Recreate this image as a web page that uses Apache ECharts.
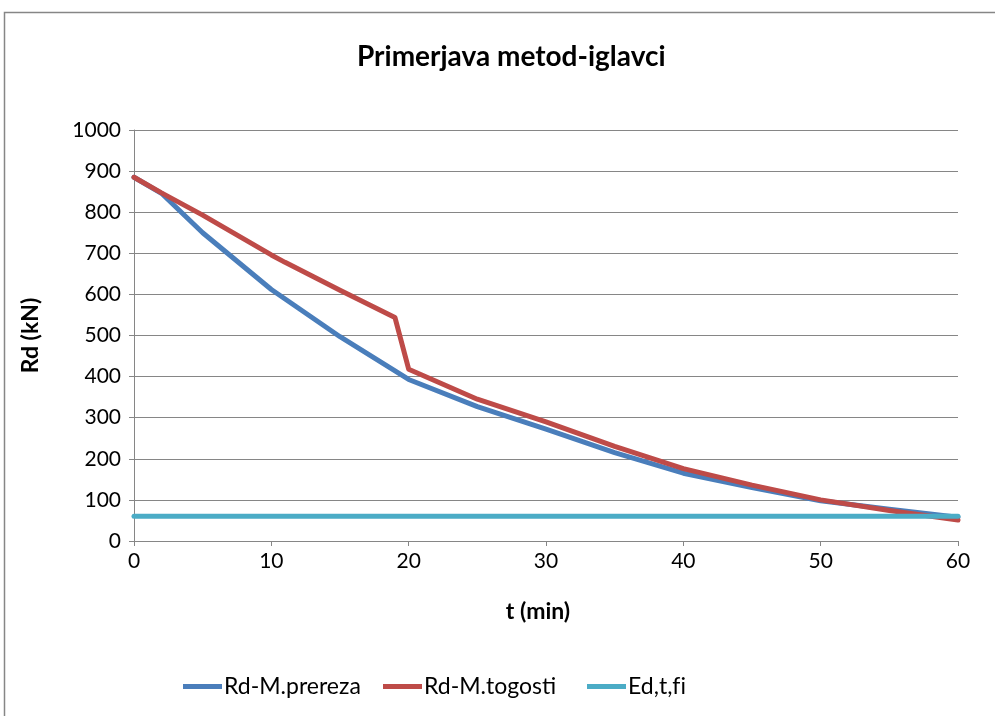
<!DOCTYPE html>
<html>
<head>
<meta charset="utf-8">
<title>Primerjava metod-iglavci</title>
<script src="https://cdn.jsdelivr.net/npm/echarts@6/dist/echarts.min.js"></script>
<style>
  html, body { margin: 0; padding: 0; background: #ffffff; }
  #chart { width: 995px; height: 716px; }
</style>
</head>
<body>
<div id="chart"></div>
<script>
// Load-bearing capacity over fire exposure time (t in minutes, Rd in kN)
const chartTitle = 'Primerjava metod-iglavci';
const xAxisTitle = 't (min)';
const yAxisTitle = 'Rd (kN)';

// Reduced cross-section method
const prerezaName = 'Rd-M.prereza';
const prerezaTime = [0, 2, 5, 10, 15, 20, 25, 30, 35, 40, 45, 50, 55, 60];
const prerezaRd   = [885, 846, 750, 612, 497, 393, 327, 272, 215, 165, 130, 98, 77, 58];

// Reduced stiffness method
const togostiName = 'Rd-M.togosti';
const togostiTime = [0, 2, 5, 10, 11, 15, 19, 20, 25, 30, 35, 40, 45, 50, 55, 60];
const togostiRd   = [885, 847, 793, 696, 678, 610, 544, 418, 345, 290, 230, 176, 136, 100, 74, 51];

// Design action in fire (ZWNJ keeps "f" and "i" as separate glyphs)
const edName = 'Ed,t,f\u200Ci';
const edTime = [0, 60];
const edValue = [60, 60];

const xTicks = { min: 0, max: 60, interval: 10 };
const yTicks = { min: 0, max: 1000, interval: 100 };

const pairs = (xs, ys) => xs.map((x, i) => [x, ys[i]]);

const FONT = 'Lato';
const GRAY = '#868686';

function lineSeries(name, data, color) {
  return {
    name: name,
    type: 'line',
    data: data,
    symbol: 'none',
    smooth: false,
    animation: false,
    itemStyle: { color: color },
    lineStyle: { color: color, width: 5, cap: 'round', join: 'round' }
  };
}

const legendBase = {
  top: 670,
  itemWidth: 39,
  itemHeight: 26,
  itemGap: 0,
  textStyle: { fontFamily: FONT, fontSize: 23, color: '#000000', padding: [0, 0, 0, -3] },
  icon: 'path://M0,0 L39,0 L39,5 L0,5 Z'
};

const chart = echarts.init(document.getElementById('chart'), null, { renderer: 'canvas' });
chart.setOption({
  backgroundColor: '#ffffff',
  animation: false,
  title: {
    text: chartTitle,
    left: 352,
    top: 38,
    textStyle: { fontFamily: FONT, fontSize: 28, fontWeight: 'bold', color: '#000000' }
  },
  graphic: [{
    type: 'rect',
    shape: { x: 4.5, y: 12.5, width: 1200, height: 900 },
    style: { fill: 'none', stroke: GRAY, lineWidth: 1.5 },
    silent: true,
    z: -1
  }],
  legend: [
    Object.assign({}, legendBase, { left: 178, data: [prerezaName] }),
    Object.assign({}, legendBase, { left: 378, data: [togostiName] }),
    Object.assign({}, legendBase, { left: 582, data: [edName] })
  ],
  grid: { left: 134, top: 130, width: 824, height: 411, containLabel: false },
  xAxis: {
    type: 'value',
    min: xTicks.min,
    max: xTicks.max,
    interval: xTicks.interval,
    name: xAxisTitle,
    nameLocation: 'middle',
    nameGap: 59,
    nameTextStyle: { fontFamily: FONT, fontSize: 23, fontWeight: 'bold', color: '#000000', padding: [0, 16, 0, 0] },
    axisLine: { show: true, lineStyle: { color: GRAY, width: 1 } },
    axisTick: { show: true, inside: false, length: 5, lineStyle: { color: GRAY } },
    axisLabel: { fontFamily: FONT, fontSize: 21, color: '#000000', margin: 10 },
    splitLine: { show: false }
  },
  yAxis: {
    type: 'value',
    min: yTicks.min,
    max: yTicks.max,
    interval: yTicks.interval,
    name: yAxisTitle,
    nameLocation: 'middle',
    nameGap: 92,
    nameRotate: 90,
    nameTextStyle: { fontFamily: FONT, fontSize: 23, fontWeight: 'bold', color: '#000000' },
    axisLine: { show: true, lineStyle: { color: GRAY, width: 1 } },
    axisTick: { show: true, inside: false, length: 5, lineStyle: { color: GRAY } },
    axisLabel: { fontFamily: FONT, fontSize: 21, color: '#000000', margin: 13, formatter: v => String(v) },
    splitLine: { show: true, lineStyle: { color: GRAY, width: 1 } }
  },
  series: [
    lineSeries(prerezaName, pairs(prerezaTime, prerezaRd), '#4A7EBB'),
    lineSeries(togostiName, pairs(togostiTime, togostiRd), '#BE4B48'),
    lineSeries(edName, pairs(edTime, edValue), '#4BACC6')
  ]
});
</script>
</body>
</html>
